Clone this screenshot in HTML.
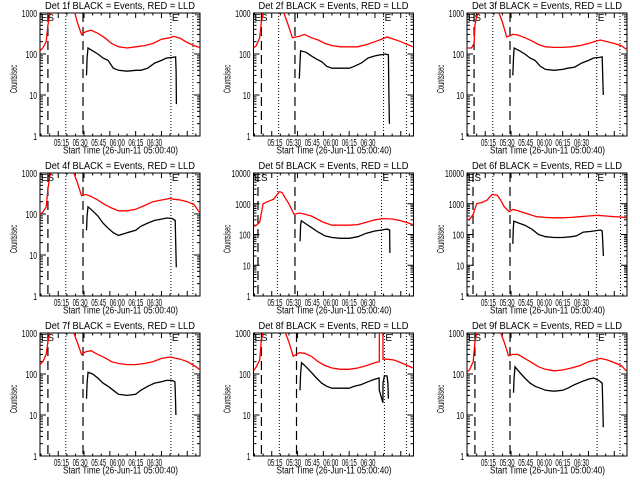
<!DOCTYPE html>
<html><head><meta charset="utf-8">
<style>
html,body{margin:0;padding:0;background:#fff;width:640px;height:480px;overflow:hidden}
svg{display:block;font-family:"Liberation Sans",sans-serif}
text{fill:#000}
</style></head>
<body>
<svg id="chart" width="640" height="480" viewBox="0 0 640 480"></svg>
<script>
// Time in minutes after 05:00, values in counts/sec
const detNames = ["1f","2f","3f","4f","5f","6f","7f","8f","9f"];
const yDecades = [3,3,3,3,4,4,3,3,3];
const xTickLabels = ["05:15","05:30","05:45","06:00","06:15","06:30"];
const xTickMinutes = [15,30,45,60,75,90];
const dashedLines = [[9,29.4],[9,28.5],[8.5,29.4],[9,29.4],[7,28.5],[7.9,29.4],[9,29.4],[9,29.4],[9,29.4]];
const dottedLines = [[19.4,80.5,93.3],[19,80,93.3],[19.4,79.8,93.3],[19.4,80.5,93.3],[18.3,78.8,93.3],[19.4,79.6,93.6],[19.4,80.5,93.3],[19.4,80.5,93.3],[19.4,80,93.3]];

const redT1 = [4.4,6,8,9,10,11,12,22,24.7,26,28.5,31,34,38,42,46,50,55,60,65,70,75,80,82,86,90,94,97];
const redV1 = [120,140,200,500,900,1100,1500,1500,1000,600,300,350,380,320,250,180,150,140,150,160,180,230,250,270,240,190,160,145];
const redT2 = [4.4,6,8,9,10,11,12,20,22,24,27,31,34,38,42,46,50,55,60,65,70,75,80,82,86,90,94,97];
const redV2 = [140,160,250,600,1000,1200,1500,1500,1000,600,250,270,300,250,220,180,160,150,150,150,170,200,240,260,230,200,170,150];
const redT3 = [4.4,7,8.5,9,10,11,12,21,23,25,27.5,31,34,38,42,46,50,55,60,65,70,75,80,82,86,90,94,97];
const redV3 = [140,140,180,500,800,1000,1500,1500,1000,600,260,300,290,250,210,170,150,145,145,150,160,180,210,220,200,180,160,130];
const redT4 = [4.4,6,8,9,10,11,12,22,24,26,28.5,31,34,38,42,46,50,55,60,65,70,75,80,82,86,90,94,97];
const redV4 = [100,110,150,400,800,1000,1500,1500,1000,600,280,300,270,220,170,140,120,120,130,160,200,220,240,230,220,200,170,110];
const redT5 = [4.4,6,8,10,13,16,19.5,21,23,25,28,31,34,38,45,50,55,60,65,70,75,80,85,90,94,97];
const redV5 = [180,200,250,1000,1200,1400,2500,2300,1500,1000,450,500,460,400,250,200,200,200,210,250,300,330,320,280,240,210];
const redT6 = [4.4,6,8,10,13,16,19,22,24,26,29,31,34,38,45,50,55,60,65,70,75,80,85,90,94,97];
const redV6 = [300,320,450,1000,1100,1300,2000,1900,1300,800,550,650,600,500,380,360,350,350,360,380,400,420,400,380,370,350];
const redT7 = [4.4,6,8,9,10,11,12,22,24,26,28.5,31,34,38,42,46,50,55,60,65,70,75,80,82,86,90,94,97];
const redV7 = [170,200,300,600,1000,1200,1500,1500,1000,600,300,350,370,300,250,200,180,170,170,180,200,240,260,250,230,200,160,130];
const redT8 = [4.4,6,8,9,10,11,12,21,23,25,27.5,31,34,38,42,46,50,55,60,65,70,75,77.5,77.6,79.6,79.7,82,86,90,94,97];
const redV8 = [120,150,220,700,1000,1200,1500,1500,1000,600,270,330,320,270,200,160,140,130,130,140,160,190,200,2000,2000,230,230,220,190,160,140];
const redT9 = [4.4,6,8,9,10,11,12,22,24,26,28.5,31,34,38,42,46,50,55,60,65,70,75,80,82,86,90,94,97];
const redV9 = [110,130,200,600,1000,1200,1500,1500,1000,600,280,300,300,240,190,150,130,120,125,140,160,200,230,240,220,190,160,120];

const blkT1 = [31.4,31.8,32.3,35,38,41,44,47,50,55,60,63,67,71,75,78,81,83.2,83.5,83.7];
const blkV1 = [30,80,140,120,100,80,70,45,40,38,40,40,45,60,70,80,82,85,40,6];
const blkT2 = [31,31.4,31.8,35,38,41,44,47,50,55,60,63,67,71,75,78,81,82.8,83.1,83.4];
const blkV2 = [25,60,120,110,90,75,65,50,45,45,45,50,60,80,90,95,100,95,10,2];
const blkT3 = [31,31.4,31.8,35,38,41,44,47,50,55,60,63,67,71,75,78,81,83,83.3,83.6];
const blkV3 = [30,80,140,120,100,80,70,50,42,40,42,45,48,60,70,80,82,85,30,10];
const blkT4 = [31.4,31.8,32.3,35,38,41,44,47,50,55,60,63,67,71,75,78,81,83,83.3,83.6];
const blkV4 = [40,90,150,120,90,60,45,35,30,35,40,50,60,70,75,80,78,70,20,5];
const blkT5 = [31.5,31.8,32.2,35,38,42,46,50,55,60,65,70,75,79,82,83.5,83.7];
const blkV5 = [60,200,280,220,170,120,90,80,75,75,85,110,130,140,150,140,25];
const blkT6 = [31,31.3,31.6,35,38,42,46,50,55,60,65,68,72,76,80,82,83,83.7];
const blkV6 = [50,150,270,230,200,150,100,85,80,80,85,90,120,125,135,140,130,20];
const blkT7 = [31.4,31.8,32.3,35,38,41,44,47,50,55,60,63,67,71,75,78,81,82.8,83.1,83.4];
const blkV7 = [25,60,110,100,80,60,50,40,32,30,32,40,50,60,65,70,70,65,30,10];
const blkT8 = [31.4,31.8,32.3,35,38,41,44,47,50,55,60,63,67,71,75,77.4,77.5,79.6,79.7,80.5,82,82.5,82.8];
const blkV8 = [40,100,190,150,110,80,60,50,45,45,45,50,55,65,75,80,40,20,60,90,90,60,25];
const blkT9 = [31.4,31.8,32.3,35,38,41,44,47,50,55,60,63,67,71,75,78,81,83,83.3,83.6];
const blkV9 = [35,80,150,110,80,60,50,45,40,38,40,45,55,65,75,80,70,60,20,5];

const redTs=[redT1,redT2,redT3,redT4,redT5,redT6,redT7,redT8,redT9];
const redVs=[redV1,redV2,redV3,redV4,redV5,redV6,redV7,redV8,redV9];
const blkTs=[blkT1,blkT2,blkT3,blkT4,blkT5,blkT6,blkT7,blkT8,blkT9];
const blkVs=[blkV1,blkV2,blkV3,blkV4,blkV5,blkV6,blkV7,blkV8,blkV9];

const svg=document.getElementById('chart');
const NS='http://www.w3.org/2000/svg';
function mk(tag,attrs,parent){const e=document.createElementNS(NS,tag);for(const k in attrs)e.setAttribute(k,attrs[k]);parent.appendChild(e);return e;}
const PX0=40,PX1=200,PY0=13,PY1=136,T0=4.4,T1=97.4;

for(let p=0;p<9;p++){
  const col=p%3,row=Math.floor(p/3);
  const g=mk('g',{transform:'translate('+(col*213.5).toFixed(1)+','+(row*160)+')'},svg);
  
  
  const dec=yDecades[p];
  const xs=t=>PX0+(t-T0)/(T1-T0)*(PX1-PX0);
  const ys=v=>PY1-Math.log10(v)/dec*(PY1-PY0);
  const clip=mk('clipPath',{id:'c'+p},g);
  mk('rect',{x:PX0,y:PY0,width:PX1-PX0,height:PY1-PY0},clip);
  const title=mk('text',{x:45,y:9,'font-size':'10',textLength:150,lengthAdjust:'spacingAndGlyphs'},g);
  title.textContent='Det '+detNames[p]+' BLACK = Events, RED = LLD';
  
  
  const fr=mk('rect',{x:PX0,y:PY0,width:PX1-PX0,height:PY1-PY0,fill:'none',stroke:'#000','stroke-width':1},g);
  
  
  for(let d=0;d<=dec;d++){
    const v=Math.pow(10,d),y=ys(v);
    mk('line',{x1:PX0,x2:PX0+6,y1:y,y2:y,stroke:'#000'},g);
    mk('line',{x1:PX1,x2:PX1-6,y1:y,y2:y,stroke:'#000'},g);
    const s=String(v);
    const lb=mk('text',{x:PX0-3,y:y+4,'text-anchor':'end','font-size':'10.5',textLength:s.length*3.8,lengthAdjust:'spacingAndGlyphs'},g);
    lb.textContent=s;
    
    
    if(d<dec)for(let m=2;m<10;m++){const ym=ys(v*m);
      mk('line',{x1:PX0,x2:PX0+3,y1:ym,y2:ym,stroke:'#000'},g);
      mk('line',{x1:PX1,x2:PX1-3,y1:ym,y2:ym,stroke:'#000'},g);}
  }
  for(let t=5;t<=95;t+=5){const x=xs(t);const L=(t%15===0)?5:2.5;
    mk('line',{x1:x,x2:x,y1:PY1,y2:PY1-L,stroke:'#000'},g);
    mk('line',{x1:x,x2:x,y1:PY0,y2:PY0+L,stroke:'#000'},g);}
  xTickMinutes.forEach((t,i)=>{const lb=mk('text',{x:61.5+18.6*i-7.5,y:PY1+10,'font-size':'10',textLength:15,lengthAdjust:'spacingAndGlyphs'},g);
    lb.textContent=xTickLabels[i];
    
    });
  const xl=mk('text',{x:63,y:PY1+17.5,'font-size':'10',textLength:115,lengthAdjust:'spacingAndGlyphs'},g);
  xl.textContent='Start Time (26-Jun-11 05:00:40)';
  
  
  const yl=mk('text',{x:-14,y:0,'font-size':'10',textLength:28,lengthAdjust:'spacingAndGlyphs',transform:'translate(17 79) rotate(-90)'},g);
  yl.textContent='Counts/sec';
  
  
  dashedLines[p].forEach(t=>{const l=mk('line',{x1:xs(t),x2:xs(t),y1:PY0,y2:PY1,stroke:'#000','stroke-width':1.2,'stroke-dasharray':'9,5'},g);
    
    });
  dottedLines[p].forEach(t=>{const l=mk('line',{x1:xs(t),x2:xs(t),y1:PY0,y2:PY1,stroke:'#000','stroke-width':1,'stroke-dasharray':'1,2'},g);
    
    });
  const es=mk('text',{x:PX0+1,y:PY0+8,'font-size':'10',textLength:13,lengthAdjust:'spacingAndGlyphs'},g);es.textContent='ES';
  
  
  const ee=mk('text',{x:xs(dottedLines[p][1])+1,y:PY0+8,'font-size':'10'},g);ee.textContent='E';
  
  
  const pts=(T,V)=>T.map((t,i)=>xs(t).toFixed(1)+','+ys(V[i]).toFixed(1)).join(' ');
  const rl=mk('polyline',{points:pts(redTs[p],redVs[p]),fill:'none',stroke:'#ff0000','stroke-width':1.3,'clip-path':'url(#c'+p+')'},g);
  
  
  const bl=mk('polyline',{points:pts(blkTs[p],blkVs[p]),fill:'none',stroke:'#000','stroke-width':1.3,'clip-path':'url(#c'+p+')'},g);
  
  
}
</script>
</body></html>
